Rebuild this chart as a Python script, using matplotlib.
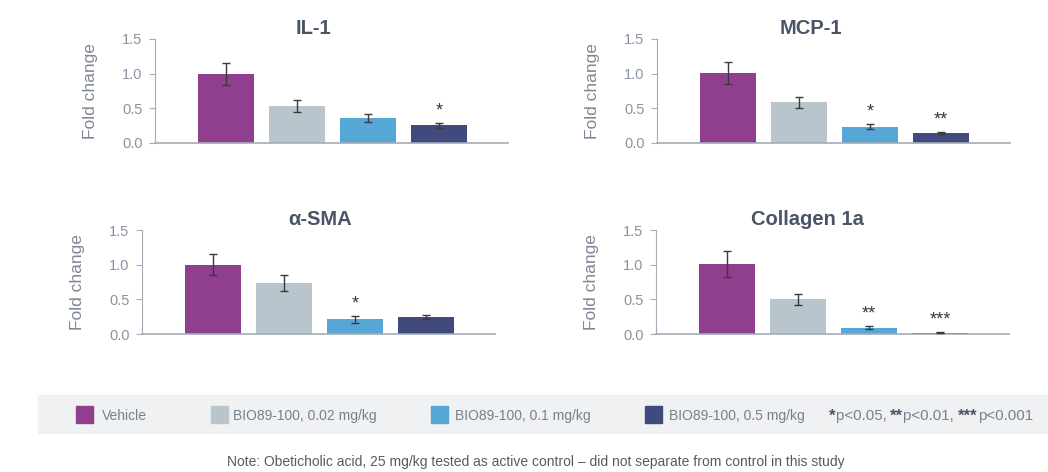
import matplotlib.pyplot as plt
from matplotlib.patches import Rectangle

plt.rcParams['font.family'] = ['Liberation Sans', 'DejaVu Sans']

# data
groups = ["Vehicle", "BIO89-100, 0.02 mg/kg", "BIO89-100, 0.1 mg/kg", "BIO89-100, 0.5 mg/kg"]
colors = ["#8F3F8D", "#B8C5CC", "#57A7D6", "#414A7C"]

titles = ["IL-1", "MCP-1", "α-SMA", "Collagen 1a"]
il1 = [1.00, 0.53, 0.36, 0.255]
il1_err = [0.16, 0.09, 0.055, 0.035]
il1_sig = ["", "", "", "*"]
mcp1 = [1.01, 0.585, 0.235, 0.14]
mcp1_err = [0.16, 0.08, 0.035, 0.015]
mcp1_sig = ["", "", "*", "**"]
asma = [1.00, 0.735, 0.21, 0.245]
asma_err = [0.155, 0.115, 0.045, 0.03]
asma_sig = ["", "", "*", ""]
col1a = [1.01, 0.50, 0.09, 0.02]
col1a_err = [0.19, 0.08, 0.02, 0.01]
col1a_sig = ["", "", "**", "***"]

values = [il1, mcp1, asma, col1a]
errors = [il1_err, mcp1_err, asma_err, col1a_err]
sigs = [il1_sig, mcp1_sig, asma_sig, col1a_sig]

title_c = "#4A5467"
tick_c = "#8A93A1"
spine_c = "#A3ABB7"

fig = plt.figure(figsize=(10.48, 4.72), dpi=100)

W, H = 1048, 472
# (left px, top px) of each panel; all 353 x 104 px
spots = [(155, 39), (657, 39), (142, 230), (656, 230)]
title_x = [0.448, 0.436, 0.504, 0.428]

for i in range(4):
    lx, ty = spots[i]
    ax = fig.add_axes([lx / W, 1 - (ty + 104) / H, 353 / W, 104 / H])
    xs = range(len(groups))
    ax.bar(xs, values[i], width=0.78, color=colors, zorder=2)
    ax.errorbar(xs, values[i], yerr=errors[i], fmt='none', ecolor="#3a3a3a",
                elinewidth=1, capsize=3, capthick=1, zorder=3)
    for x, v, e, s in zip(xs, values[i], errors[i], sigs[i]):
        if s:
            ax.text(x, v + e + 0.11, s, ha='center', va='baseline',
                    fontsize=13, color="#3a3a3a")
    ax.set_xlim(-1.0, 3.97)
    ax.set_ylim(0, 1.5)
    ax.set_yticks([0, 0.5, 1.0, 1.5])
    ax.set_yticklabels(["0.0", "0.5", "1.0", "1.5"])
    ax.set_xticks([])
    for sp in ["top", "right"]:
        ax.spines[sp].set_visible(False)
    ax.spines["left"].set_color(spine_c)
    ax.spines["bottom"].set_color(spine_c)
    ax.spines["bottom"].set_linewidth(1.2)
    ax.tick_params(axis='y', colors=spine_c, labelcolor=tick_c, labelsize=10.5,
                   length=4, pad=5)
    ax.set_ylabel("Fold change", fontsize=12.5, color="#7E8794", labelpad=17)
    ax.text(title_x[i], 1.05, titles[i], transform=ax.transAxes, ha='center',
            va='baseline', fontsize=14.5, fontweight='bold', color=title_c)

# legend band
fig.patches.append(Rectangle((38 / W, 1 - 433 / H), 1 - 38 / W, 38 / H,
                             transform=fig.transFigure, color="#F0F1F3", zorder=0))
patch_x = [76, 211, 431, 645]
text_x = [102, 233, 455, 669]
yc = 1 - 414.5 / H
for i in range(4):
    fig.patches.append(Rectangle((patch_x[i] / W, 1 - 423 / H), 17 / W, 17 / H,
                                 transform=fig.transFigure, color=colors[i], zorder=1))
    fig.text(text_x[i] / W, yc, groups[i], fontsize=10, color="#77808C",
             va='center_baseline')

# significance key, bold stars
stat_parts = [("*", True), ("p<0.05, ", False), ("**", True), ("p<0.01, ", False),
              ("***", True), ("p<0.001", False)]
renderer = fig.canvas.get_renderer()
x = 829
for txt, bold in stat_parts:
    t = fig.text(x / W, yc, txt, fontsize=12 if bold else 10.8,
                 fontweight='bold' if bold else 'normal',
                 color="#4A5467" if bold else "#77808C", va='center_baseline')
    x += t.get_window_extent(renderer).width

fig.text(536 / W, 1 - 462 / H,
         "Note: Obeticholic acid, 25 mg/kg tested as active control \u2013 did not separate from control in this study",
         ha='center', va='center', fontsize=10, color="#555b63")

fig.savefig("out.png", dpi=100)
